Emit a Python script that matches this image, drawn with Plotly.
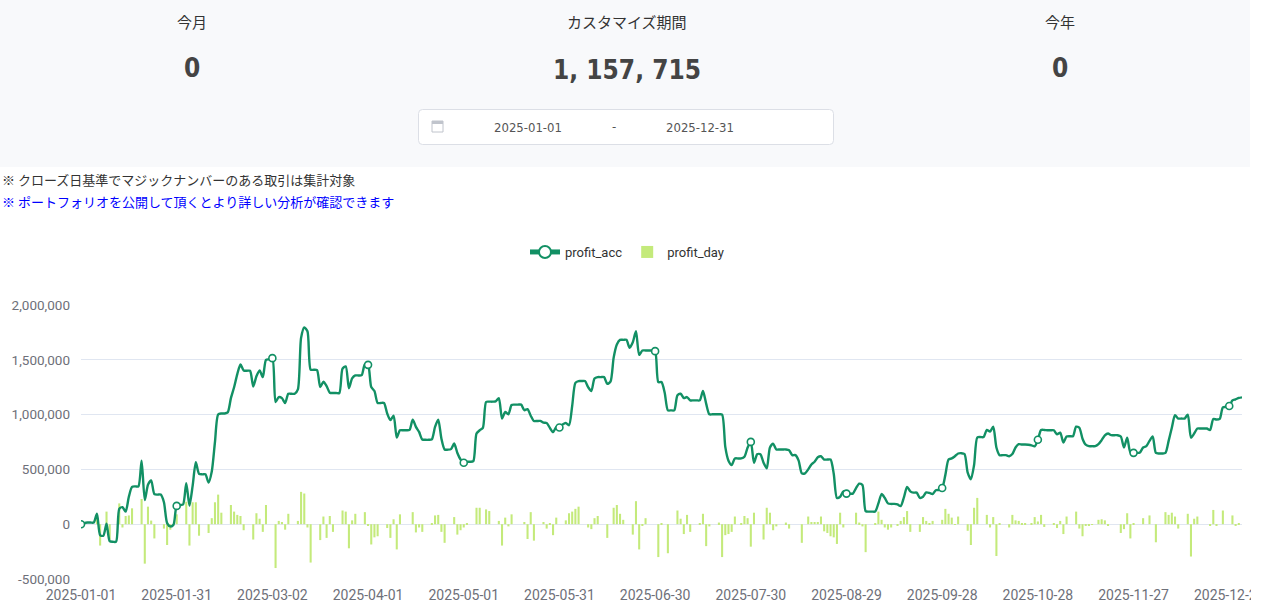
import pandas as pd
import plotly.graph_objects as go

# daily categories
dates = pd.date_range("2025-01-01", "2025-12-31").strftime("%Y-%m-%d").tolist()
tick_dates = dates[::30]

y_ticks = [-500000, 0, 500000, 1000000, 1500000, 2000000]
y_tick_text = ["-500,000", "0", "500,000", "1,000,000", "1,500,000", "2,000,000"]

# cumulative profit (yen), one value per day
profit_acc = [
    0, 10000, 15000, 15000, 15000, 95000, -100000, -105000, 5000, -155000,
    -160000, -160000, 140000, 155000, 115000, 250000, 340000, 345000, 345000, 580000,
    220000, 360000, 400000, 275000, 270000, 270000, 200000, 10000, -20000, -5000,
    167000, 175000, 180000, 375000, 170000, 350000, 565000, 460000, 455000, 455000,
    380000, 480000, 750000, 1000000, 1010000, 1010000, 1020000, 1150000, 1250000, 1370000,
    1457000, 1403000, 1400000, 1400000, 1257000, 1350000, 1403000, 1342000, 1500000, 1505000,
    1515000, 1115000, 1160000, 1150000, 1106000, 1190000, 1190000, 1190000, 1230000, 1700000,
    1795000, 1760000, 1410000, 1409000, 1405000, 1251000, 1300000, 1260000, 1200000, 1197000,
    1197000, 1197000, 1420000, 1440000, 1240000, 1330000, 1357000, 1357000, 1360000, 1460000,
    1454000, 1251000, 1215000, 1106000, 1106000, 1106000, 1010000, 950000, 990000, 790000,
    857000, 857000, 857000, 860000, 954000, 888000, 842000, 773000, 770000, 770000,
    775000, 888000, 954000, 780000, 682000, 680000, 685000, 736000, 650000, 590000,
    560000, 570000, 570000, 575000, 827000, 857000, 879000, 1115000, 1118000, 1118000,
    1120000, 1150000, 964000, 1024000, 1003000, 1088000, 1091000, 1091000, 1091000, 1040000,
    1050000, 990000, 942000, 942000, 942000, 926000, 924000, 879000, 840000, 885000,
    882000, 910000, 924000, 903000, 1080000, 1290000, 1306000, 1306000, 1306000, 1250000,
    1215000, 1330000, 1342000, 1342000, 1342000, 1280000, 1300000, 1520000, 1640000, 1682000,
    1682000, 1682000, 1610000, 1660000, 1760000, 1545000, 1585000, 1585000, 1585000, 1585000,
    1579000, 1297000, 1297000, 1200000, 1039000, 1039000, 1039000, 1176000, 1190000, 1150000,
    1160000, 1130000, 1130000, 1130000, 1130000, 1215000, 1100000, 1003000, 1003000, 1003000,
    1003000, 1000000, 706000, 580000, 540000, 600000, 600000, 600000, 615000, 700000,
    751000, 560000, 639000, 639000, 560000, 509000, 700000, 735000, 682000, 682000,
    682000, 682000, 675000, 630000, 630000, 580000, 464000, 464000, 500000, 545000,
    570000, 610000, 620000, 590000, 590000, 590000, 460000, 240000, 250000, 300000,
    279000, 279000, 279000, 330000, 370000, 357000, 120000, 115000, 115000, 115000,
    190000, 275000, 240000, 190000, 185000, 185000, 180000, 165000, 245000, 340000,
    300000, 288000, 288000, 240000, 250000, 290000, 285000, 275000, 310000, 312000,
    330000, 450000, 590000, 600000, 620000, 645000, 648000, 640000, 470000, 410000,
    540000, 791000, 795000, 795000, 860000, 845000, 890000, 700000, 630000, 630000,
    630000, 620000, 640000, 700000, 730000, 727000, 727000, 725000, 720000, 710000,
    770000, 860000, 860000, 857000, 857000, 857000, 820000, 835000, 745000, 800000,
    803000, 803000, 890000, 880000, 780000, 725000, 712000, 712000, 712000, 730000,
    767000, 810000, 827000, 812000, 812000, 812000, 800000, 700000, 790000, 655000,
    651000, 651000, 655000, 700000, 712000, 760000, 800000, 650000, 645000, 645000,
    650000, 760000, 880000, 994000, 964000, 964000, 964000, 1000000, 790000, 827000,
    873000, 873000, 873000, 873000, 860000, 960000, 955000, 960000, 1065000, 1070000,
    1078000, 1130000, 1140000, 1152000, 1157715,
]

# daily profit (yen)
profit_day = [
    0, 10000, 0, 0, 0, 80000, -195000, 0, 115000, -140000,
    0, 0, 190000, -30000, 75000, 80000, 145000, 0, 0, 230000,
    -360000, 160000, 33000, -130000, 0, 0, -40000, -190000, -50000, 0,
    90000, 0, 0, 205000, -195000, 200000, 200000, -105000, 0, 0,
    -80000, 55000, 200000, 270000, 105000, 0, 0, 175000, 115000, 85000,
    75000, -55000, 0, 0, -140000, 100000, 50000, -70000, 175000, 0,
    0, -400000, 30000, 20000, -50000, 95000, 0, 0, 30000, 295000,
    280000, -30000, -350000, 0, 0, -145000, 70000, -125000, 75000, -70000,
    0, 0, 125000, 115000, -220000, 35000, 95000, 0, 0, 110000,
    -10000, -185000, -120000, -110000, 0, 0, -35000, -125000, 45000, -230000,
    90000, 0, 0, 0, 110000, -75000, -30000, -70000, 0, 0,
    10000, 80000, 85000, -70000, -170000, 0, 0, 65000, -95000, -55000,
    -30000, 10000, 0, 0, 150000, 150000, 0, 135000, 120000, 0,
    0, 30000, -195000, 60000, -20000, 90000, 0, 0, 0, 20000,
    -135000, 110000, -150000, 0, 0, 20000, -40000, 10000, -100000, 60000,
    0, 0, 35000, 100000, 115000, 140000, 160000, 0, 0, -30000,
    -45000, 55000, 75000, 0, 0, -125000, 0, 150000, 175000, 95000,
    40000, 0, 0, -95000, 210000, -230000, -10000, 55000, 0, 0,
    0, -300000, 10000, 0, -265000, 0, 0, 125000, 50000, -90000,
    85000, -70000, 0, 0, 5000, 95000, -200000, -20000, 0, 0,
    15000, -300000, -100000, -90000, -70000, 70000, 0, 10000, 75000, 55000,
    -205000, 105000, 0, 0, -140000, 150000, 105000, -55000, -20000, 0,
    0, 15000, -40000, 0, 0, 0, -170000, 0, 70000, 20000,
    20000, 20000, 70000, -65000, -80000, -110000, -120000, -180000, 105000, -30000,
    0, 0, 0, 105000, 15000, -20000, -255000, 0, 0, 10000,
    115000, 40000, -30000, -50000, -30000, 0, -15000, 30000, 65000, 120000,
    -70000, 0, 0, -70000, 65000, 30000, 10000, 30000, 0, 0,
    40000, 140000, 95000, 60000, -5000, 70000, 0, 0, -60000, -190000,
    150000, 240000, 0, 0, 85000, -30000, 65000, -290000, 5000, 0,
    0, -30000, 85000, 35000, 30000, 10000, 5000, 0, 10000, 65000,
    25000, 85000, -25000, 0, 0, 5000, -35000, 30000, -90000, 70000,
    0, 0, 115000, -40000, -110000, -15000, -10000, -5000, 0, 40000,
    45000, 35000, -15000, 0, 0, 0, -80000, -45000, 100000, -130000,
    5000, 0, 0, 55000, 0, 80000, 0, -165000, 0, 0,
    110000, 85000, 105000, 70000, -40000, 0, 0, 95000, -295000, 50000,
    70000, 0, 0, 0, -10000, 130000, -15000, 0, 125000, 0,
    0, 80000, -10000, 10000, 0,
]

W, H = 1268, 615
L, R, T, B = 81, 1242, 305, 579  # plot area in pixels

LINE_GREEN = "#129064"
BAR_GREEN = "#c4ea7b"
JP_FONT = "Noto Sans CJK JP"
NUM_FONT = "DejaVu Sans Condensed, Liberation Sans Narrow, Roboto Condensed, Roboto"


def px(x):
    return (x - L) / (R - L)


def py(y):
    return (B - y) / (B - T)


def rounded_rect(x0, y0, x1, y1, r):
    # path in paper coords for a pixel rect with rounded corners
    pts = [
        f"M {px(x0 + r)},{py(y0)}",
        f"L {px(x1 - r)},{py(y0)}",
        f"Q {px(x1)},{py(y0)} {px(x1)},{py(y0 + r)}",
        f"L {px(x1)},{py(y1 - r)}",
        f"Q {px(x1)},{py(y1)} {px(x1 - r)},{py(y1)}",
        f"L {px(x0 + r)},{py(y1)}",
        f"Q {px(x0)},{py(y1)} {px(x0)},{py(y1 - r)}",
        f"L {px(x0)},{py(y0 + r)}",
        f"Q {px(x0)},{py(y0)} {px(x0 + r)},{py(y0)}",
        "Z",
    ]
    return " ".join(pts)


fig = go.Figure()

fig.add_trace(go.Bar(
    x=dates,
    y=profit_day,
    name="profit_day",
    marker=dict(color=BAR_GREEN, line=dict(width=0)),
    legendrank=2,
))

marker_sizes = [7 if i % 30 == 0 else 0 for i in range(len(dates))]
fig.add_trace(go.Scatter(
    x=dates,
    y=profit_acc,
    name="profit_acc",
    mode="lines+markers",
    line=dict(color=LINE_GREEN, width=2.4, shape="spline", smoothing=0.7),
    marker=dict(size=marker_sizes, color="white", opacity=1,
                line=dict(color=LINE_GREEN, width=1.6)),
    legendrank=1,
))

shapes = [
    # header panel
    dict(type="rect", xref="paper", yref="paper", x0=px(0), x1=px(1250), y0=py(167), y1=py(0),
         fillcolor="#f8f9fb", line=dict(width=0), layer="below"),
    # date range box
    dict(type="path", xref="paper", yref="paper", path=rounded_rect(418.5, 109.5, 833.5, 144.5, 4),
         fillcolor="white", line=dict(color="#dcdfe6", width=1), layer="below"),
    # calendar icon
    dict(type="rect", xref="paper", yref="paper", x0=px(432), x1=px(443), y0=py(132), y1=py(121),
         fillcolor="white", line=dict(color="#c0c4cc", width=1)),
    dict(type="rect", xref="paper", yref="paper", x0=px(432), x1=px(443), y0=py(124), y1=py(121),
         fillcolor="#c0c4cc", line=dict(width=0)),
    # right edge of the page (chart canvas ends here)
    dict(type="rect", xref="paper", yref="paper", x0=px(1251), x1=px(1268), y0=py(615), y1=py(168),
         fillcolor="white", line=dict(width=0), layer="above"),
]


def label(text, x, y, size, color="#333333", family=JP_FONT, anchor="center"):
    return dict(text=text, x=px(x), y=py(y), xref="paper", yref="paper", showarrow=False,
                xanchor=anchor, yanchor="middle", font=dict(size=size, color=color, family=family))


annotations = [
    label("今月", 192, 22, 15),
    label("カスタマイズ期間", 627, 22, 15),
    label("今年", 1060, 22, 15),
    label("<b>0</b>", 192, 68, 26, "#444444", NUM_FONT),
    label("<b>1, 157, 715</b>", 627, 70, 26, "#444444", NUM_FONT),
    label("<b>0</b>", 1060, 68, 26, "#444444", NUM_FONT),
    label("2025-01-01", 528, 127, 13, "#555555", NUM_FONT),
    label("-", 614, 126, 13, "#555555", NUM_FONT),
    label("2025-12-31", 700, 127, 13, "#555555", NUM_FONT),
    label("※ クローズ日基準でマジックナンバーのある取引は集計対象", 0, 179, 13, "#333333", JP_FONT, "left"),
    label("※ ポートフォリオを公開して頂くとより詳しい分析が確認できます", 0, 201, 13, "#0000ff", JP_FONT, "left"),
]

fig.update_layout(
    width=W,
    height=H,
    margin=dict(l=L, r=W - R, t=T, b=H - B, pad=0, autoexpand=False),
    paper_bgcolor="white",
    plot_bgcolor="white",
    bargap=0.35,
    font=dict(family="Roboto, Noto Sans", size=13, color="#6e7079"),
    showlegend=True,
    legend=dict(
        orientation="h",
        xref="container", yref="container",
        x=627 / W, xanchor="center",
        y=1 - 252 / H, yanchor="middle",
        font=dict(size=13, color="#333333"),
        itemsizing="constant",
        itemwidth=30,
        bgcolor="rgba(0,0,0,0)",
    ),
    shapes=shapes,
    annotations=annotations,
    hovermode="x",
)

fig.update_xaxes(
    type="category",
    range=[0, len(dates) - 1],
    automargin=False,
    tickmode="array",
    tickvals=tick_dates,
    ticktext=tick_dates,
    showgrid=False,
    showline=False,
    zeroline=False,
    ticks="",
    ticklabelstandoff=6,
    tickfont=dict(size=14, color="#6e7079"),
)

fig.update_yaxes(
    range=[-500000, 2000000],
    automargin=False,
    tickmode="array",
    tickvals=y_ticks,
    ticktext=y_tick_text,
    showgrid=True,
    gridcolor="#e0e6f1",
    gridwidth=1,
    zeroline=False,
    showline=False,
    ticks="",
    ticklabelstandoff=10,
    tickfont=dict(size=13.5, color="#6e7079"),
)

fig.write_html(
    "out.html",
    config={"displayModeBar": False},
    post_script="document.body.style.margin='0px';document.body.style.overflow='hidden';",
)
